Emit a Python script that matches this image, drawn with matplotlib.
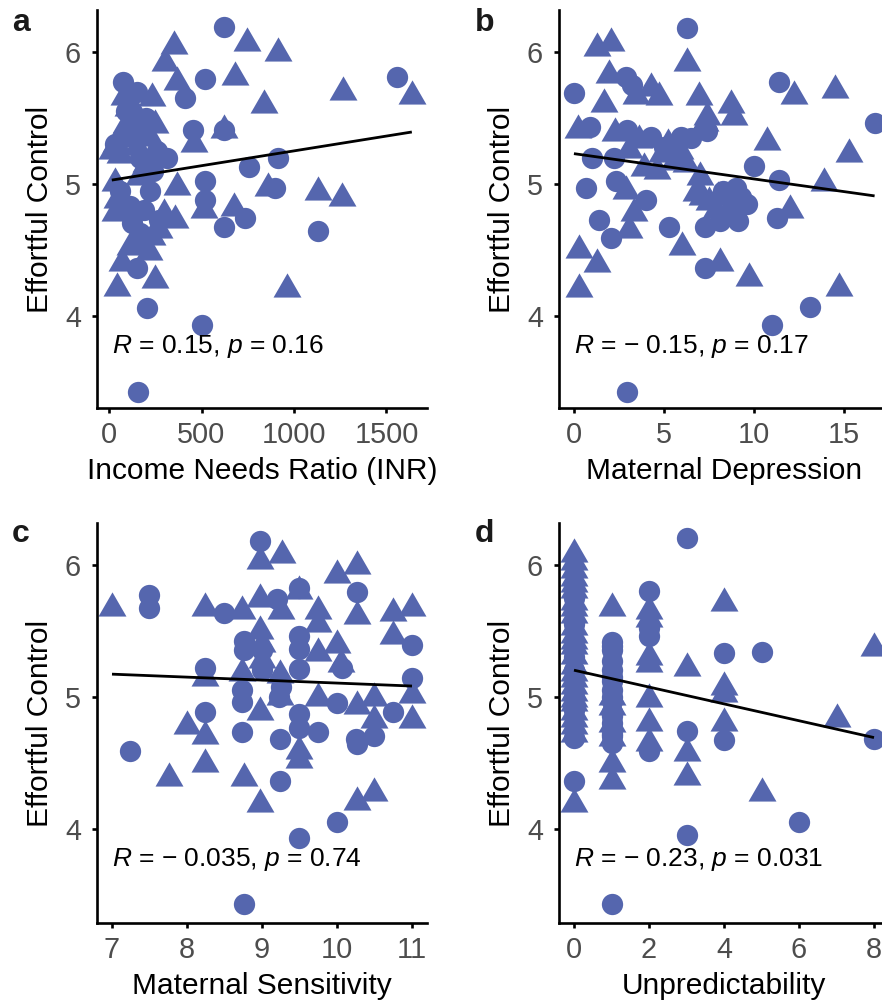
import matplotlib
matplotlib.use("Agg")
import matplotlib.pyplot as plt
import numpy as np

plt.rcParams['font.family'] = ['Liberation Sans', 'DejaVu Sans']
plt.rcParams['mathtext.fontset'] = 'custom'
plt.rcParams['mathtext.it'] = 'Liberation Sans:italic'
plt.rcParams['mathtext.rm'] = 'Liberation Sans'

# ---------------- data ----------------
# a: Income Needs Ratio
inr_circ_x = [622, 519, 76, 411, 151, 454, 622, 30, 110, 200, 260, 170, 70, 313, 222, 519, 519, 757, 622, 735,
              113, 124, 168, 270, 151, 180, 205, 503, 157, 1555, 915, 897, 1130, 90, 240, 140, 60, 190]
inr_circ_y = [6.19, 5.80, 5.77, 5.65, 5.70, 5.41, 5.41, 5.30, 5.40, 5.50, 5.25, 5.20, 5.35, 5.20, 4.95, 5.02, 4.88,
              5.13, 4.67, 4.74, 4.83, 4.70, 4.63, 4.73, 4.36, 4.55, 4.06, 3.93, 3.42, 5.81, 5.20, 4.97, 4.64, 5.55,
              5.10, 5.45, 4.95, 4.80]
inr_tri_x = [351, 746, 303, 681, 368, 81, 232, 838, 622, 459, 40, 90, 130, 180, 220, 60, 150, 368, 32, 513,
             676, 860, 43, 32, 297, 357, 232, 216, 70, 43, 249, 113, 915, 1265, 1637, 1130, 1259, 962, 120, 200,
             15, 270, 160, 100, 250]
inr_tri_y = [6.05, 6.07, 5.92, 5.81, 5.77, 5.66, 5.65, 5.60, 5.41, 5.30, 5.30, 5.45, 5.50, 5.40, 5.35, 5.22, 5.28,
             4.98, 5.01, 4.80, 4.82, 4.97, 4.88, 4.78, 4.77, 4.73, 4.60, 4.48, 4.40, 4.21, 4.27, 4.52, 5.99, 5.70,
             5.67, 4.94, 4.89, 4.20, 5.60, 5.15, 5.25, 4.65, 5.05, 5.58, 5.45]

# b: Maternal Depression
dep_circ_x = [6.3, 0.0, 11.4, 16.7, 0.9, 1.0, 2.9, 3.2, 2.95, 4.3, 5.95, 2.2, 2.35, 0.65, 4.0, 1.4, 2.05, 5.3,
              7.3, 7.3, 2.95, 10.0, 11.4, 11.3, 13.1, 11.0, 8.3, 9.0, 9.3, 8.6, 9.1, 8.1, 9.6, 6.5, 7.4, 5.0]
dep_circ_y = [6.18, 5.69, 5.77, 5.46, 5.43, 5.20, 5.81, 5.75, 5.41, 5.36, 5.36, 5.20, 5.02, 4.97, 4.88, 4.73,
              4.59, 4.67, 4.67, 4.36, 3.42, 5.14, 5.03, 4.74, 4.07, 3.93, 4.95, 4.97, 4.90, 4.78, 4.72, 4.72, 4.85,
              5.35, 5.40, 5.28]
dep_tri_x = [1.3, 2.05, 6.3, 1.95, 3.45, 4.3, 4.7, 1.65, 6.95, 0.2, 2.3, 7.3, 3.05, 4.9, 5.55, 3.9, 2.9, 6.8,
             7.5, 3.35, 3.05, 6.0, 0.3, 1.3, 0.3, 12.2, 14.5, 8.7, 8.9, 10.7, 15.3, 13.9, 12.0, 8.1, 9.7, 14.7,
             8.0, 8.8, 7.9, 5.2, 6.2, 7.0, 7.1, 5.9, 3.6, 4.6, 7.4]
dep_tri_y = [6.03, 6.07, 5.92, 5.83, 5.67, 5.73, 5.66, 5.61, 5.66, 5.41, 5.39, 5.46, 5.26, 5.23, 5.17, 5.12,
             4.95, 4.93, 4.86, 4.78, 4.65, 4.52, 4.50, 4.39, 4.20, 5.67, 5.71, 5.60, 5.51, 5.32, 5.23, 5.01, 4.80,
             4.40, 4.29, 4.21, 4.90, 4.85, 4.80, 5.30, 5.15, 5.05, 4.90, 5.25, 5.33, 5.10, 5.51]

# c: Maternal Sensitivity
sens_circ_x = [8.97, 7.5, 7.5, 8.5, 8.76, 8.76, 8.24, 8.73, 8.73, 8.24, 8.73, 7.24, 8.76, 10.27, 9.5, 9.2, 11.0,
               9.5, 9.5, 9.5, 10.07, 11.0, 10.75, 10.0, 9.5, 9.24, 9.75, 9.5, 10.27, 10.5, 9.24, 9.5, 10.0, 9.0,
               9.23, 9.0, 10.25, 9.25]
sens_circ_y = [6.18, 5.77, 5.67, 5.63, 5.42, 5.35, 5.22, 5.05, 4.96, 4.88, 4.73, 4.59, 3.43, 5.79, 5.82, 5.74,
               5.39, 5.46, 5.36, 5.21, 5.22, 5.14, 4.88, 4.95, 4.87, 4.68, 4.73, 4.76, 4.64, 4.70, 4.36, 3.93, 4.05,
               5.20, 5.00, 5.35, 4.68, 5.07]
sens_tri_x = [8.97, 7.0, 8.24, 8.73, 8.97, 8.97, 8.24, 8.73, 8.0, 8.24, 8.24, 7.76, 8.76, 8.97, 8.97, 9.27, 10.0,
              10.27, 10.27, 9.5, 9.25, 9.75, 9.75, 10.75, 11.0, 10.75, 9.75, 10.0, 10.05, 9.24, 9.24, 9.0, 9.0,
              11.0, 11.0, 10.5, 10.27, 9.75, 9.5, 9.5, 10.5, 10.27, 10.5]
sens_tri_y = [6.03, 5.67, 5.67, 5.65, 5.74, 5.50, 5.14, 5.18, 4.78, 4.70, 4.49, 4.38, 4.38, 4.19, 4.88, 6.07,
              5.92, 5.99, 5.61, 5.80, 5.65, 5.65, 5.55, 5.63, 5.67, 5.46, 5.33, 5.39, 5.25, 5.16, 5.00, 5.40, 5.28,
              5.01, 4.82, 4.99, 4.93, 4.99, 4.59, 4.52, 4.82, 4.20, 4.27]

# d: Unpredictability
unp_circ_x = [0, 0, 0, 0, 0, 0, 0, 0,
              1, 1, 1, 1, 1, 1, 1, 1, 1, 1, 1, 1, 1, 1, 1, 1, 1,
              2, 2, 2, 2, 3, 3, 3, 4, 4, 5, 6, 8]
unp_circ_y = [5.55, 5.20, 4.69, 4.36, 5.75, 5.30, 5.00, 4.90,
              5.41, 5.35, 5.27, 5.20, 5.12, 5.05, 4.97, 4.88, 4.80, 4.72, 4.65, 5.38, 5.15, 5.00, 4.85, 4.70, 3.43,
              5.80, 5.52, 5.46, 4.59, 6.20, 4.74, 3.95, 5.33, 4.67, 5.34, 4.05, 4.68]
unp_tri_x = [0, 0, 0, 0, 0, 0, 0, 0, 0, 0, 0, 0, 0, 0, 0, 0, 0, 0, 0, 0, 0, 0, 0, 0, 0, 0,
             1, 1, 1, 1, 1, 1, 1,
             2, 2, 2, 2, 2, 2, 2,
             3, 3, 3, 4, 4, 4, 4, 5, 7, 8]
unp_tri_y = [6.08, 5.96, 5.90, 5.81, 5.72, 5.62, 5.53, 5.47, 5.38, 5.31, 5.23, 5.13, 5.03, 4.95, 4.88, 4.78, 4.72,
             4.19, 6.02, 5.85, 5.67, 5.42, 5.18, 5.08, 4.98, 4.83,
             5.67, 5.00, 4.92, 4.79, 4.69, 4.49, 4.36,
             5.65, 5.59, 5.30, 5.25, 4.98, 4.80, 4.65,
             5.22, 4.57, 4.39, 5.71, 5.07, 5.02, 4.80, 4.27, 4.83, 5.37]

# fitted lines (intercept, slope) and correlation labels
fit_intercepts = [5.026, 5.23, 5.3275, 5.20]
fit_slopes = [0.000225, -0.0192, -0.0225, -0.0638]
cor_labels = [r"$R$ = 0.15, $p$ = 0.16",
              r"$R$ = − 0.15, $p$ = 0.17",
              r"$R$ = − 0.035, $p$ = 0.74",
              r"$R$ = − 0.23, $p$ = 0.031"]
x_labels = ["Income Needs Ratio (INR)", "Maternal Depression", "Maternal Sensitivity", "Unpredictability"]
y_label = "Effortful Control"
panel_letters = ["a", "b", "c", "d"]
x_ticks = [[0, 500, 1000, 1500], [0, 5, 10, 15], [7, 8, 9, 10, 11], [0, 2, 4, 6, 8]]
y_ticks = [4, 5, 6]

# ---------------- drawing ----------------
COL = "#5566AE"
W, H = 882, 1005
fig = plt.figure(figsize=(W / 100, H / 100), dpi=100)


def add_ax(l, t, w, h):
    return fig.add_axes([l / W, 1 - (t + h) / H, w / W, h / H])


axes = [add_ax(97, 10, 330, 398), add_ax(559, 10, 330, 398),
        add_ax(97, 523, 330, 400), add_ax(559, 523, 330, 400)]
xlims = [(-65, 1719), (-0.83, 17.5), (6.8, 11.2), (-0.4, 8.4)]
ylims = [(3.30, 6.32), (3.30, 6.32), (3.285, 6.315), (3.285, 6.315)]

tri_marker = [(0, 1.0), (-0.866, -0.5), (0.866, -0.5)]

data = [(inr_circ_x, inr_circ_y, inr_tri_x, inr_tri_y),
        (dep_circ_x, dep_circ_y, dep_tri_x, dep_tri_y),
        (sens_circ_x, sens_circ_y, sens_tri_x, sens_tri_y),
        (unp_circ_x, unp_circ_y, unp_tri_x, unp_tri_y)]

letter_pos = [(12, 31), (475, 31), (12, 542), (475, 542)]

for i, ax in enumerate(axes):
    cx, cy, tx, ty = data[i]
    ax.scatter(cx, cy, s=235, marker='o', color=COL, linewidths=0, zorder=2, clip_on=False)
    ax.scatter(tx, ty, s=540, marker=tri_marker, color=COL, linewidths=0, zorder=2, clip_on=False)
    allx = np.array(list(cx) + list(tx), dtype=float)
    xs = np.array([allx.min(), allx.max()])
    ax.plot(xs, fit_intercepts[i] + fit_slopes[i] * xs, color='black', lw=2.0, zorder=3,
            solid_capstyle='butt')
    ax.text(allx.min(), 3.72, cor_labels[i], fontsize=19, color='black', ha='left', va='baseline')
    ax.set_xlim(*xlims[i])
    ax.set_ylim(*ylims[i])
    ax.set_xticks(x_ticks[i])
    ax.set_yticks(y_ticks)
    for s in ['top', 'right']:
        ax.spines[s].set_visible(False)
    for s in ['left', 'bottom']:
        ax.spines[s].set_linewidth(1.9)
        ax.spines[s].set_color('black')
    ax.tick_params(axis='both', length=3.6, width=1.9, color='black', labelsize=20.8, labelcolor='#4D4D4D')
    ax.tick_params(axis='x', pad=6)
    ax.tick_params(axis='y', pad=8)
    ax.set_xlabel(x_labels[i], fontsize=21.5, color='black', va='center')
    ax.xaxis.set_label_coords(0.5, -0.158)
    ax.set_ylabel(y_label, fontsize=21.5, color='black', va='center')
    ax.yaxis.set_label_coords(-0.173, 0.5)
    ax.set_facecolor('none')
    lx, ly = letter_pos[i]
    fig.text(lx / W, 1 - ly / H, panel_letters[i], fontsize=23, fontweight='bold', color='#1A1A1A',
             ha='left', va='baseline')

fig.savefig("out.png", dpi=100, facecolor='white')
